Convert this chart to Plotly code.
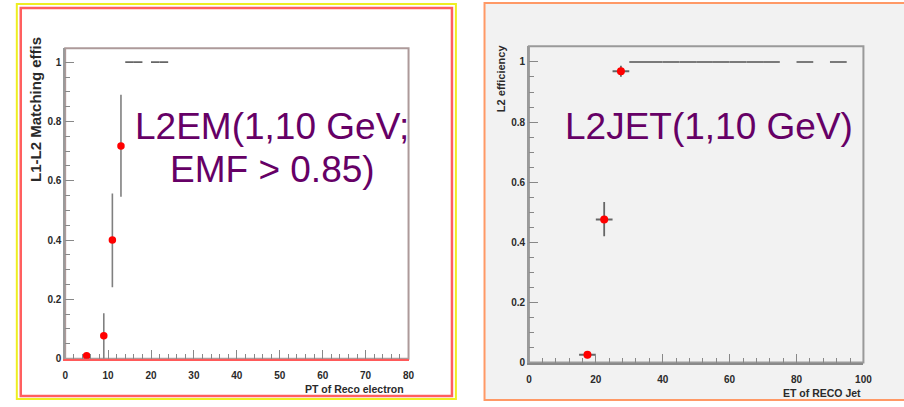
import plotly.graph_objects as go

# ---------------- data ----------------
# Left panel: L1-L2 matching efficiency vs PT of reco electron
em_pt = [5, 9, 11, 13]
em_eff = [0.01, 0.077, 0.40, 0.717]
em_err_up = [0.008, 0.076, 0.157, 0.173]
em_err_dn = [0.01, 0.077, 0.159, 0.171]
em_full_pt = [15, 17, 21, 23]          # bins with efficiency 1 (zero error)
em_full_eff = [1, 1, 1, 1]
em_bin_half = 1.0

# Right panel: L2 efficiency vs ET of RECO jet
jet_et = [17.5, 22.5, 27.5]
jet_eff = [0.026, 0.476, 0.969]
jet_err_up = [0.012, 0.058, 0.018]
jet_err_dn = [0.012, 0.056, 0.018]
jet_full_et = [32.5, 37.5, 42.5, 47.5, 52.5, 57.5, 62.5, 67.5, 72.5, 82.5, 92.5]
jet_full_eff = [1] * 11
jet_bin_half = 2.5

em_xticks = [0, 10, 20, 30, 40, 50, 60, 70, 80]
jet_xticks = [0, 20, 40, 60, 80, 100]
yticks = [0, 0.2, 0.4, 0.6, 0.8, 1]
ytick_labels = ["0", "0.2", "0.4", "0.6", "0.8", "1"]

# ---------------- layout helpers ----------------
W, H = 904, 407
def px(x):
    return x / W
def py(y):
    return 1 - y / H

PURPLE = "#660066"
RED = "#ff0000"
ERRC = "#808080"
FONT = "Liberation Sans, Arial"

fig = go.Figure()

# left panel traces
fig.add_trace(go.Scatter(
    x=em_full_pt, y=em_full_eff, mode="markers", xaxis="x", yaxis="y",
    marker=dict(size=1, color="rgba(0,0,0,0)"),
    error_x=dict(type="constant", value=em_bin_half, color="#666666", thickness=1.8, width=0),
    showlegend=False, hoverinfo="skip"))
fig.add_trace(go.Scatter(
    x=em_pt, y=em_eff, mode="markers", xaxis="x", yaxis="y",
    marker=dict(size=7.5, color=RED),
    error_y=dict(type="data", symmetric=False, array=em_err_up, arrayminus=em_err_dn,
                 color=ERRC, thickness=1.6, width=0),
    showlegend=False))

# right panel traces
fig.add_trace(go.Scatter(
    x=jet_full_et, y=jet_full_eff, mode="markers", xaxis="x2", yaxis="y2",
    marker=dict(size=1, color="rgba(0,0,0,0)"),
    error_x=dict(type="constant", value=jet_bin_half, color="#7a7a7a", thickness=2, width=0),
    showlegend=False, hoverinfo="skip"))
fig.add_trace(go.Scatter(
    x=jet_et, y=jet_eff, mode="markers", xaxis="x2", yaxis="y2",
    marker=dict(size=8, color=RED),
    error_x=dict(type="constant", value=jet_bin_half, color="#666666", thickness=1.8, width=0),
    error_y=dict(type="data", symmetric=False, array=jet_err_up, arrayminus=jet_err_dn,
                 color="#666666", thickness=1.8, width=0),
    showlegend=False))

tickfont = dict(family=FONT, size=10, color="#2a2a2a", weight="bold")

common_x = dict(showgrid=False, zeroline=False, ticks="inside", tickcolor="#888888",
                ticklen=9, tickwidth=1, showline=True, linewidth=1.5,
                tickfont=tickfont, tickmode="array", ticklabelstandoff=7)
common_y = dict(showgrid=False, zeroline=False, ticks="inside", tickcolor="#888888",
                ticklen=9, tickwidth=1, showline=True, linewidth=1.5, linecolor="#9a9a9a",
                tickfont=tickfont, tickmode="array", tickvals=yticks, ticktext=ytick_labels,
                ticklabelstandoff=0,
                minor=dict(ticks="inside", ticklen=5, tickcolor="#888888", dtick=0.05,
                           showgrid=False))

fig.update_layout(
    width=W, height=H, autosize=False,
    margin=dict(l=0, r=0, t=0, b=0),
    paper_bgcolor="white", plot_bgcolor="rgba(0,0,0,0)",
    xaxis=dict(domain=[px(63), px(411)], range=[0, 80], anchor="y",
               tickvals=em_xticks, ticktext=[str(v) for v in em_xticks],
               linecolor="#ff5a5a",
               minor=dict(ticks="inside", ticklen=5, tickcolor="#888888", dtick=2, showgrid=False),
               **common_x),
    yaxis=dict(domain=[py(364), py(49)], range=[0, 1.047], anchor="x", **common_y),
    xaxis2=dict(domain=[px(533), px(872)], range=[0, 100], anchor="y2",
                tickvals=jet_xticks, ticktext=[str(v) for v in jet_xticks],
                linecolor="#8a8a8a",
                minor=dict(ticks="inside", ticklen=5, tickcolor="#888888", dtick=4, showgrid=False),
                **common_x),
    yaxis2=dict(domain=[py(368), py(47)], range=[0, 1.052], anchor="x2", **common_y),
)

shapes = []
# left panel borders
shapes.append(dict(type="rect", xref="paper", yref="paper", layer="below",
                   x0=px(14), x1=px(459), y0=py(405), y1=py(4),
                   line=dict(color="#eeee22", width=2), fillcolor="white"))
shapes.append(dict(type="rect", xref="paper", yref="paper", layer="below",
                   x0=px(18), x1=px(455), y0=py(402), y1=py(8),
                   line=dict(color="#ff5f5f", width=2.5), fillcolor="white"))
# right panel borders
shapes.append(dict(type="rect", xref="paper", yref="paper", layer="below",
                   x0=px(488), x1=px(920), y0=py(406), y1=py(3),
                   line=dict(color="#ff9966", width=2), fillcolor="#f2f2f2"))
# plot frames
shapes.append(dict(type="rect", xref="x domain", yref="y domain", layer="below",
                   x0=0, x1=1, y0=0, y1=1, line=dict(color="#ad9a9a", width=2),
                   fillcolor="white"))
shapes.append(dict(type="rect", xref="x2 domain", yref="y2 domain", layer="below",
                   x0=0, x1=1, y0=0, y1=1, line=dict(color="#9a9a9a", width=2),
                   fillcolor="#f2f2f2"))
fig.update_layout(shapes=shapes)

big = dict(family=FONT, size=37, color=PURPLE)
small_bold = dict(family=FONT, color="#2a2a2a")
annotations = [
    dict(text="L2EM(1,10 GeV;", x=px(272.5), y=py(128.5), xref="paper", yref="paper",
         showarrow=False, xanchor="center", yanchor="middle", font=big),
    dict(text="EMF > 0.85)", x=px(273.5), y=py(172), xref="paper", yref="paper",
         showarrow=False, xanchor="center", yanchor="middle", font=big),
    dict(text="L2JET(1,10 GeV)", x=px(716), y=py(128.5), xref="paper", yref="paper",
         showarrow=False, xanchor="center", yanchor="middle", font=big),
    dict(text="<b>L1-L2 Matching effis</b>", x=px(33), y=py(111), xref="paper", yref="paper",
         showarrow=False, xanchor="center", yanchor="middle", textangle=-90,
         font=dict(size=15, **small_bold)),
    dict(text="<b>L2 efficiency</b>", x=px(505), y=py(79), xref="paper", yref="paper",
         showarrow=False, xanchor="center", yanchor="middle", textangle=-90,
         font=dict(size=11, **small_bold)),
    dict(text="<b>PT of Reco electron</b>", x=px(408), y=py(395), xref="paper", yref="paper",
         showarrow=False, xanchor="right", yanchor="middle",
         font=dict(size=10.5, **small_bold)),
    dict(text="<b>ET of RECO Jet</b>", x=px(872), y=py(399), xref="paper", yref="paper",
         showarrow=False, xanchor="right", yanchor="middle",
         font=dict(size=10.5, **small_bold)),
]
fig.update_layout(annotations=annotations)

fig.write_html("out.html")
